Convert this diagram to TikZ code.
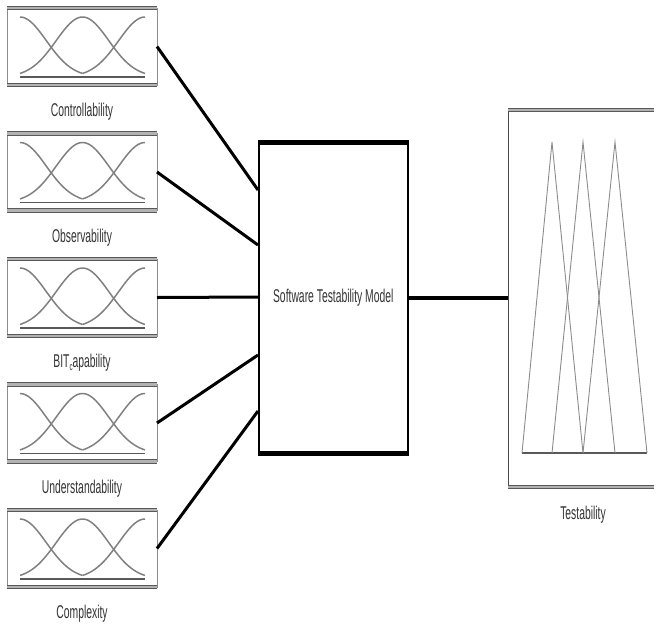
\documentclass[tikz,border=0pt]{standalone}
\usepackage{fontspec}
\setmainfont{Liberation Sans}[FakeStretch=0.56]
\usetikzlibrary{calc}
\begin{document}
\begin{tikzpicture}[x=1pt,y=-1pt,
  mfbox/.style={draw=black!45, line width=1pt, minimum width=150pt, minimum height=77pt,
                inner sep=0pt, outer sep=0pt, anchor=north west},
  rail/.style={draw=black!65, line width=1pt, double=black!30, double distance=2.2pt},
  mfcurve/.style={draw=black!50, line width=1.5pt},
  mfbase/.style={draw=black!65, line width=1.3pt},
  tri/.style={draw=black!45, line width=0.9pt},
  lbl/.style={font=\fontsize{18.5}{18.5}\selectfont, text=black!80},
  wire/.style={line width=3pt, black},
]
\useasboundingbox (0,0) rectangle (654,625);

% input membership-function panels
\foreach \k/\top/\txt in {1/8/Controllability, 2/133.5/Observability,
    3/259/{BIT\raisebox{-3pt}{\fontsize{11}{11}\selectfont c}apability},
    4/384.5/Understandability, 5/510/Complexity} {
  \node[mfbox] (in\k) at (7,\top) {};
  \draw[rail] (in\k.north west) -- (in\k.north east);
  \draw[rail] (in\k.south west) -- (in\k.south east);
  \begin{scope}[shift={(in\k.north west)}]
    \draw[mfbase] (13,69) -- (138,69);
    \draw[mfcurve] plot[domain=13:75.5, samples=40] (\x,{69-60*exp(-((\x-13)^2)/1383)});
    \draw[mfcurve] plot[domain=13:138, samples=60] (\x,{69-60*exp(-((\x-75.5)^2)/1383)});
    \draw[mfcurve] plot[domain=75.5:138, samples=40] (\x,{69-60*exp(-((\x-138)^2)/1383)});
  \end{scope}
  \node[lbl] (lb\k) at ([yshift=-27pt]in\k.south) {\txt};
}

% model block
\node[draw, line width=1.5pt, minimum width=149pt, minimum height=310pt, inner sep=0pt,
      anchor=north west, lbl] (model) at (258,142) {Software Testability Model};
\draw[line width=5pt] (model.north west) -- (model.north east);
\draw[line width=5pt] (model.south west) -- (model.south east);

% output panel with triangular sets
\node[minimum width=146pt, minimum height=377pt, inner sep=0pt, outer sep=0pt,
      anchor=north west] (out) at (508,110) {};
\draw[black!70, line width=1pt] (out.north west) -- (out.south west);
\draw[rail] (out.north west) -- (out.north east);
\draw[rail] (out.south west) -- (out.south east);
\begin{scope}[shift={(out.north west)}]
  \draw[mfbase] (14,343) -- (139,343);
  \draw[tri] (14,343) -- (44,32) -- (75,343);
  \draw[tri] (44,343) -- (75,32) -- (107,343);
  \draw[tri] (75,343) -- (107,32) -- (139,343);
\end{scope}
\node[lbl] (lbout) at (583,515) {Testability};

% connectors
\coordinate (m1) at (258,190);
\coordinate (m2) at (258,245);
\coordinate (m3) at (258,297);
\coordinate (m4) at (258,355);
\coordinate (m5) at (258,411);
\foreach \k in {1,...,5} { \draw[wire] (in\k.east) -- (m\k); }
\draw[line width=3.5pt] (model.east) -- (out.west |- model.east);
\end{tikzpicture}
\end{document}
